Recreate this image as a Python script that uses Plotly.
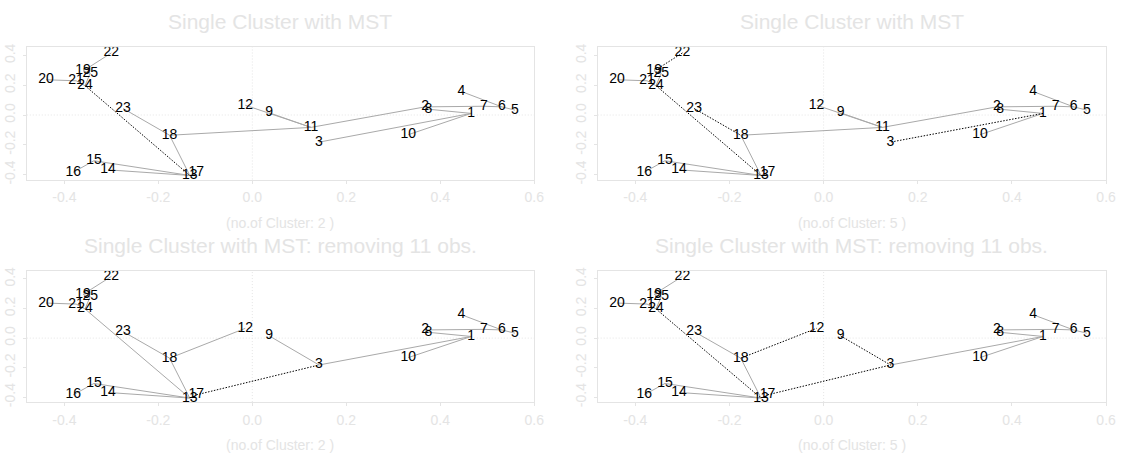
import plotly.graph_objects as go

W, H = 1128, 461

# Observation coordinates (first two principal axes)
obs_id = list(range(1, 26))
coord_x = [0.466, 0.368, 0.142, 0.445, 0.559, 0.531, 0.493, 0.375, 0.036, 0.332,
           0.125, -0.015, -0.133, -0.307, -0.337, -0.381, -0.119, -0.176, -0.360, -0.439,
           -0.375, -0.300, -0.275, -0.356, -0.345]
coord_y = [0.011, 0.055, -0.182, 0.158, 0.033, 0.055, 0.059, 0.039, 0.015, -0.132,
           -0.083, 0.066, -0.406, -0.368, -0.307, -0.384, -0.384, -0.136, 0.296, 0.237,
           0.230, 0.417, 0.044, 0.197, 0.281]

# Minimum spanning tree on all observations
mst_all = [(22, 19), (19, 25), (25, 24), (21, 24), (20, 21), (24, 13), (23, 18),
           (18, 13), (13, 17), (15, 13), (14, 13), (16, 15), (18, 11), (12, 11),
           (9, 11), (11, 2), (2, 8), (2, 7), (8, 1), (7, 6), (4, 6), (6, 5),
           (1, 10), (1, 3)]
# Minimum spanning tree after dropping observation 11
removed_obs = [11]
mst_drop = [(22, 19), (19, 25), (25, 24), (21, 24), (20, 21), (24, 13), (23, 18),
            (18, 13), (18, 12), (13, 17), (15, 13), (14, 13), (16, 15), (17, 3),
            (9, 3), (3, 1), (1, 10), (2, 8), (2, 7), (8, 1), (7, 6), (4, 6), (6, 5)]

# Edges cut to obtain k clusters
cut_all_k2 = [(24, 13)]
cut_all_k5 = [(22, 19), (24, 13), (23, 18), (1, 3)]
cut_drop_k2 = [(17, 3)]
cut_drop_k5 = [(24, 13), (18, 12), (9, 3), (17, 3)]

titles = ["Single Cluster with MST", "Single Cluster with MST",
          "Single Cluster with MST: removing 11 obs.",
          "Single Cluster with MST: removing 11 obs."]
n_clusters = [2, 5, 2, 5]

x_ticks = [-0.4, -0.2, 0.0, 0.2, 0.4, 0.6]
y_ticks = [-0.4, -0.2, 0.0, 0.2, 0.4]
x_range = [-0.480, 0.600]
y_range = [-0.433, 0.456]

panels = [
    dict(edges=mst_all, cuts=cut_all_k2, drop=[]),
    dict(edges=mst_all, cuts=cut_all_k5, drop=[]),
    dict(edges=mst_drop, cuts=cut_drop_k2, drop=removed_obs),
    dict(edges=mst_drop, cuts=cut_drop_k5, drop=removed_obs),
]

# plot boxes in pixels: (left, right, top, bottom)
boxes = [(27, 539, 44, 179), (603, 1116, 44, 179),
         (27, 539, 272, 406), (603, 1116, 272, 406)]

FAINT = "#e4e4e4"
EDGE = "#a9a9a9"
FONT = "Liberation Sans, Arial, Helvetica, sans-serif"

pos = {i: (x, y) for i, x, y in zip(obs_id, coord_x, coord_y)}

fig = go.Figure()
layout = dict(width=W, height=H, margin=dict(l=0, r=0, t=0, b=0),
              plot_bgcolor="white", paper_bgcolor="white", showlegend=False,
              font=dict(family=FONT))
annotations = []
shapes = []


def seg(edge_list):
    xs, ys = [], []
    for a, b in edge_list:
        xs += [pos[a][0], pos[b][0], None]
        ys += [pos[a][1], pos[b][1], None]
    return xs, ys


for k, (panel, box) in enumerate(zip(panels, boxes)):
    n = k + 1
    xa = "x" if n == 1 else f"x{n}"
    ya = "y" if n == 1 else f"y{n}"
    left, right, top, bottom = box

    cut_set = {tuple(sorted(e)) for e in panel["cuts"]}
    kept = [e for e in panel["edges"] if tuple(sorted(e)) not in cut_set]
    sx, sy = seg(kept)
    fig.add_trace(go.Scatter(x=sx, y=sy, mode="lines", xaxis=xa, yaxis=ya,
                             line=dict(color=EDGE, width=1), hoverinfo="skip"))
    cx, cy = seg(panel["cuts"])
    fig.add_trace(go.Scatter(x=cx, y=cy, mode="lines", xaxis=xa, yaxis=ya,
                             line=dict(color="black", width=1, dash="1.5px,1.5px"),
                             hoverinfo="skip"))

    ids = [i for i in obs_id if i not in panel["drop"]]
    fig.add_trace(go.Scatter(x=[pos[i][0] for i in ids], y=[pos[i][1] for i in ids],
                             text=[str(i) for i in ids], mode="text",
                             textposition="middle center", xaxis=xa, yaxis=ya,
                             textfont=dict(color="black", size=14, family=FONT)))

    xdom = [left / W, right / W]
    ydom = [1 - bottom / H, 1 - top / H]
    layout["xaxis" if n == 1 else f"xaxis{n}"] = dict(
        domain=xdom, anchor=ya, range=x_range, tickvals=x_ticks,
        ticktext=[f"{v:.1f}" for v in x_ticks], showgrid=False, zeroline=False,
        showline=True, mirror=True, linecolor=FAINT, linewidth=1,
        ticks="outside", ticklen=3, tickcolor=FAINT,
        tickfont=dict(color=FAINT, size=14, family=FONT), ticklabelstandoff=2)
    layout["yaxis" if n == 1 else f"yaxis{n}"] = dict(
        domain=ydom, anchor=xa, range=y_range, tickvals=y_ticks,
        ticktext=[f"{v:.1f}" for v in y_ticks], showgrid=False, zeroline=False,
        showline=True, mirror=True, linecolor=FAINT, linewidth=1,
        ticks="outside", ticklen=3, tickcolor=FAINT, tickangle=-90,
        tickfont=dict(color=FAINT, size=14, family=FONT), ticklabelstandoff=2)

    # dotted reference lines through the origin
    shapes.append(dict(type="line", xref=xa, yref=f"{ya} domain", x0=0, x1=0,
                       y0=0, y1=1, line=dict(color=FAINT, width=1, dash="1px,2px"),
                       layer="below"))
    shapes.append(dict(type="line", xref=f"{xa} domain", yref=ya, x0=0, x1=1,
                       y0=0, y1=0, line=dict(color=FAINT, width=1, dash="1px,2px"),
                       layer="below"))

    cx_paper = (left + right) / 2 / W
    title_y = top - 26
    sub_y = bottom + 44
    annotations.append(dict(text=titles[k], x=cx_paper, y=1 - title_y / H,
                            xref="paper", yref="paper", showarrow=False,
                            xanchor="center", yanchor="middle",
                            font=dict(size=21, color=FAINT, family=FONT)))
    annotations.append(dict(text=f"(no.of Cluster: {n_clusters[k]} )", x=cx_paper,
                            y=1 - sub_y / H, xref="paper", yref="paper",
                            showarrow=False, xanchor="center", yanchor="middle",
                            font=dict(size=14, color=FAINT, family=FONT)))

layout["annotations"] = annotations
layout["shapes"] = shapes
fig.update_layout(**layout)
fig.write_html("out.html")
